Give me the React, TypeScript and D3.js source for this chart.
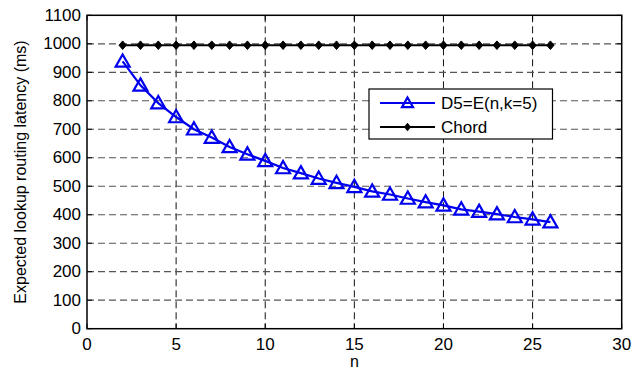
import React from "react";
import * as d3 from "d3";

const nValues = [2,3,4,5,6,7,8,9,10,11,12,13,14,15,16,17,18,19,20,21,22,23,24,25,26];
const d5Values = [938,854,792,743,700,671,638,612,589,564,546,527,512,498,482,471,457,444,433,419,411,402,392,384,374];
const chordValues = [995,995,995,995,995,995,995,995,995,995,995,995,995,995,995,995,995,995,995,995,995,995,995,995,995];
const xTicks = [0,5,10,15,20,25,30];
const yTicks = [0,100,200,300,400,500,600,700,800,900,1000,1100];
const legendLabels = ["D5=E(n,k=5)", "Chord"];

const W = 644, H = 371;
const L = 87, R = 621.7, T = 15.3, B = 328.7;

export default function App() {
  const x = d3.scaleLinear().domain([0, 30]).range([L, R]);
  const y = d3.scaleLinear().domain([0, 1100]).range([B, T]);
  const line = d3.line<number>().x((_, i) => x(nValues[i])).y((v) => y(v));
  const font = "'Liberation Sans', Arial, Helvetica, sans-serif";
  const tri = (cx: number, cy: number, s = 7) =>
    `M${cx},${cy - s}L${cx + s},${cy + s * 0.75}L${cx - s},${cy + s * 0.75}Z`;
  const diamond = (cx: number, cy: number, s = 4.3) =>
    `M${cx},${cy - s}L${cx + s * 0.85},${cy}L${cx},${cy + s}L${cx - s * 0.85},${cy}Z`;
  const lgX = 369, lgY = 89, lgW = 183.5, lgH = 50;
  return (
    <svg width={W} height={H} style={{ position: "absolute", left: 0, top: 0, background: "#fff" }} fontFamily={font}>
      <rect x={0} y={0} width={W} height={H} fill="#fff" />
      {/* grid */}
      {xTicks.filter((t) => t > 0 && t < 30).map((t) => (
        <line key={"gx" + t} x1={x(t)} x2={x(t)} y1={T} y2={B} stroke="#111" strokeWidth={1} strokeDasharray="7,4" />
      ))}
      {yTicks.filter((t) => t > 0 && t < 1100).map((t) => (
        <line key={"gy" + t} x1={L} x2={R} y1={y(t)} y2={y(t)} stroke="#555" strokeWidth={1.2} strokeDasharray="7,4" />
      ))}
      {/* ticks */}
      {xTicks.map((t) => (
        <g key={"tx" + t}>
          <line x1={x(t)} x2={x(t)} y1={B} y2={B - 5} stroke="#000" />
          <line x1={x(t)} x2={x(t)} y1={T} y2={T + 5} stroke="#000" />
          <text x={x(t)} y={349.5} fontSize={17} textAnchor="middle" fill="#000">{t}</text>
        </g>
      ))}
      {yTicks.map((t) => (
        <g key={"ty" + t}>
          <line x1={L} x2={L + 5} y1={y(t)} y2={y(t)} stroke="#000" />
          <line x1={R} x2={R - 5} y1={y(t)} y2={y(t)} stroke="#000" />
          <text x={81} y={y(t) + 5.5} fontSize={17} textAnchor="end" fill="#000">{t}</text>
        </g>
      ))}
      {/* frame */}
      <rect x={L} y={T} width={R - L} height={B - T} fill="none" stroke="#000" strokeWidth={1.5} />
      {/* series */}
      <path d={line(chordValues) || ""} fill="none" stroke="#000" strokeWidth={2} />
      {chordValues.map((v, i) => (
        <path key={"c" + i} d={diamond(x(nValues[i]), y(v))} fill="#000" stroke="#000" strokeWidth={1} />
      ))}
      <path d={line(d5Values) || ""} fill="none" stroke="#0000ee" strokeWidth={2.2} />
      {d5Values.map((v, i) => (
        <path key={"d" + i} d={tri(x(nValues[i]), y(v))} fill="none" stroke="#0000ee" strokeWidth={2.2} />
      ))}
      {/* legend */}
      <rect x={lgX} y={lgY} width={lgW} height={lgH} fill="#fff" stroke="#000" strokeWidth={1.2} />
      <line x1={380} x2={435} y1={103} y2={103} stroke="#0000ee" strokeWidth={2.2} />
      <path d={tri(407.5, 103, 5.5)} fill="none" stroke="#0000ee" strokeWidth={2.2} />
      <text x={441} y={109} fontSize={17} fill="#000">{legendLabels[0]}</text>
      <line x1={380} x2={435} y1={127} y2={127} stroke="#000" strokeWidth={2} />
      <path d={diamond(407.5, 127)} fill="#000" />
      <text x={441} y={133} fontSize={17} fill="#000">{legendLabels[1]}</text>
      {/* axis labels */}
      <text x={x(15)} y={367} fontSize={16} textAnchor="middle" fill="#000">n</text>
      <text transform={`translate(26,${(T + B) / 2}) rotate(-90)`} fontSize={16} textAnchor="middle" fill="#000">
        Expected lookup routing latency (ms)
      </text>
    </svg>
  );
}
